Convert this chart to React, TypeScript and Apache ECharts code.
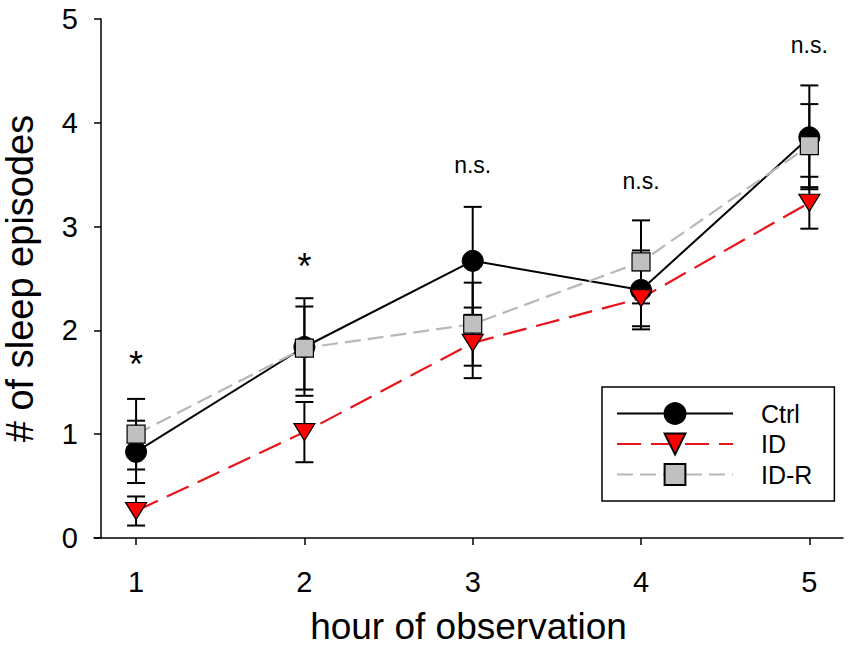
import React, { useEffect, useRef } from "react";
import * as echarts from "echarts";

const hours = [1, 2, 3, 4, 5];
const ctrlMean = [0.83, 1.84, 2.67, 2.39, 3.86];
const ctrlErr = [0.3, 0.47, 0.52, 0.38, 0.5];
const idMean = [0.26, 1.02, 1.88, 2.31, 3.23];
const idErr = [0.14, 0.29, 0.34, 0.27, 0.25];
const idrMean = [1.0, 1.83, 2.06, 2.66, 3.78];
const idrErr = [0.34, 0.4, 0.4, 0.4, 0.4];

const annotX = [1, 2, 3, 4, 5];
const annotY = [1.75, 2.69, 3.57, 3.42, 4.73];
const annotText = ["*", "*", "n.s.", "n.s.", "n.s."];

const yTicks = [0, 1, 2, 3, 4, 5];

const FONT = "'Liberation Sans', Arial, sans-serif";

function errData(mean: number[], err: number[]) {
  return hours.map((h, i) => [h, mean[i] - err[i], mean[i] + err[i]]);
}

function errSeries(name: string, mean: number[], err: number[]) {
  return {
    type: "custom",
    name: name,
    data: errData(mean, err),
    encode: { x: 0, y: [1, 2] },
    renderItem: (params: any, api: any) => {
      const x = api.value(0);
      const lo = api.coord([x, api.value(1)]);
      const hi = api.coord([x, api.value(2)]);
      const hw = 9;
      const st = { stroke: "#000", lineWidth: 2 };
      return {
        type: "group",
        children: [
          { type: "line", shape: { x1: lo[0], y1: lo[1], x2: hi[0], y2: hi[1] }, style: st },
          { type: "line", shape: { x1: lo[0] - hw, y1: lo[1], x2: lo[0] + hw, y2: lo[1] }, style: st },
          { type: "line", shape: { x1: hi[0] - hw, y1: hi[1], x2: hi[0] + hw, y2: hi[1] }, style: st },
        ],
      };
    },
  };
}

export default function App() {
  const ref = useRef<HTMLDivElement>(null);
  useEffect(() => {
    document.body.style.margin = "0";
    const chart = echarts.init(ref.current!, undefined, { renderer: "svg" });
    const option: any = {
      animation: false,
      backgroundColor: "#fff",
      textStyle: { fontFamily: FONT },
      grid: { left: 94, right: 8, top: 19, bottom: 122, containLabel: false, outerBoundsMode: "none" },
      xAxis: {
        type: "value",
        min: 0.75,
        max: 5.2,
        name: "hour of observation",
        nameLocation: "middle",
        nameGap: 70,
        nameTextStyle: { fontSize: 37, color: "#000", fontFamily: FONT },
        axisLine: { show: true, onZero: false, lineStyle: { color: "#000", width: 1.5 } },
        axisTick: { show: true, length: 7, customValues: hours, lineStyle: { color: "#000", width: 1.5 } },
        axisLabel: { customValues: hours, fontSize: 29, color: "#000", margin: 29, fontFamily: FONT },
        splitLine: { show: false },
      },
      yAxis: {
        type: "value",
        min: 0,
        max: 5,
        interval: 1,
        offset: -7,
        name: "# of sleep episodes",
        nameLocation: "middle",
        nameGap: 62,
        nameTextStyle: { fontSize: 38, color: "#000", fontFamily: FONT },
        axisLine: { show: true, lineStyle: { color: "#000", width: 1.5 } },
        axisTick: { show: true, length: 7, customValues: yTicks, lineStyle: { color: "#000", width: 1.5 } },
        axisLabel: { customValues: yTicks, fontSize: 29, color: "#000", margin: 23, fontFamily: FONT },
        splitLine: { show: false },
      },
      legend: {
        data: ["Ctrl", "ID", "ID-R"],
        orient: "vertical",
        left: 602,
        top: 387,
        itemWidth: 116,
        itemHeight: 26,
        itemGap: 5.5,
        padding: [14, 22, 14, 14],
        borderColor: "#000",
        borderWidth: 1.5,
        borderRadius: 0,
        backgroundColor: "#fff",
        textStyle: { fontSize: 25, color: "#000", padding: [0, 0, 0, 23], fontFamily: FONT },
      },
      series: [
        {
          type: "line",
          name: "Ctrl",
          data: hours.map((h, i) => [h, ctrlMean[i]]),
          symbol: "circle",
          symbolSize: 21,
          lineStyle: { color: "#000", width: 2 },
          itemStyle: { color: "#000", borderColor: "#000", borderWidth: 1 },
        },
        errSeries("errCtrl", ctrlMean, ctrlErr),
        {
          type: "line",
          name: "ID",
          data: hours.map((h, i) => [h, idMean[i]]),
          symbol: "triangle",
          symbolRotate: 180,
          symbolSize: [21, 17],
          lineStyle: { color: "#e8141c", width: 2.2, type: [24, 10] },
          itemStyle: { color: "#ff0000", borderColor: "#000", borderWidth: 1.2 },
        },
        errSeries("errID", idMean, idErr),
        errSeries("errIDR", idrMean, idrErr),
        {
          type: "line",
          name: "ID-R",
          data: hours.map((h, i) => [h, idrMean[i]]),
          symbol: "rect",
          symbolSize: 18,
          lineStyle: { color: "#b8b8b8", width: 2.2, type: [16, 7] },
          itemStyle: { color: "#c0c0c0", borderColor: "#000", borderWidth: 1.2 },
        },
        {
          type: "custom",
          name: "annot",
          data: annotX.map((x, i) => [x, annotY[i], i]),
          encode: { x: 0, y: 1 },
          renderItem: (params: any, api: any) => {
            const idx = api.value(2);
            const p = api.coord([api.value(0), api.value(1)]);
            const txt = annotText[idx];
            const isStar = txt === "*";
            const fs = isStar ? 36 : 23;
            const dy = isStar ? 0.22 * fs : -0.087 * fs;
            return {
              type: "text",
              x: p[0],
              y: p[1] + dy,
              style: {
                text: txt,
                fontSize: fs,
                fontFamily: FONT,
                fill: "#000",
                align: "center",
                verticalAlign: "middle",
              },
            };
          },
        },
      ],
    };
    chart.setOption(option);
    return () => chart.dispose();
  }, []);
  return <div ref={ref} style={{ width: 851, height: 660 }} />;
}
